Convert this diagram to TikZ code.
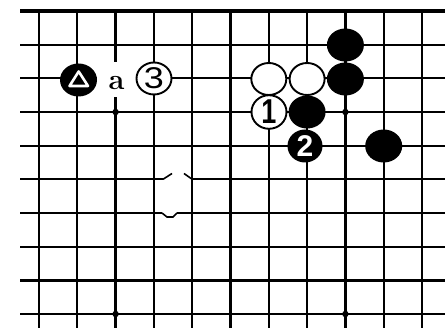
\documentclass[tikz,border=0pt]{standalone}
\usepackage{fontspec}
\newfontfamily\numfont{Liberation Sans}
\usetikzlibrary{shapes.geometric}
\begin{document}
\begin{tikzpicture}[x=1pt,y=-1pt,
  gridline/.style={line width=2.3pt},
  edgeline/.style={line width=4pt},
  markline/.style={line width=1.6pt},
  bstone/.style={ellipse, fill=black, minimum width=37pt, minimum height=33pt, inner sep=0pt, text=white, font=\numfont\bfseries\fontsize{30}{30}\selectfont},
  wstone/.style={ellipse, draw, fill=white, line width=1.9pt, minimum width=35pt, minimum height=32pt, inner sep=0pt, font=\numfont\fontsize{30}{30}\selectfont},
  blank/.style={rectangle, fill=white, minimum width=40pt, minimum height=35pt, inner sep=0pt},
  hoshi/.style={circle, fill=black, inner sep=0pt, minimum size=6.5pt}]
\useasboundingbox (0,0) rectangle (445,328);
\fill[white] (0,0) rectangle (445,328);
% vertical lines
\foreach \i in {0,...,10}
  \draw[gridline] ({39+38.3*\i},11) -- ({39+38.3*\i},328);
% horizontal lines
\foreach \j in {1,2,3,4,7,8,9}
  \draw[gridline] (20,{11+33.67*\j}) -- (445,{11+33.67*\j});
\draw[gridline] (20,179.3) -- (163,179.3);
\draw[gridline] (192.2,179.3) -- (445,179.3);
\draw[markline] (163,179.3) -- (172,173.5);
\draw[markline] (184,173.5) -- (192.2,179.3);
\draw[gridline] (20,213) -- (162,213);
\draw[markline] (162,213) -- (167,217) -- (173,217) -- (177,213);
\draw[gridline] (177,213) -- (445,213);
% top edge
\draw[edgeline] (20,11) -- (445,11);
% star points
\node[hoshi] (h1) at (115.6,112) {};
\node[hoshi] (h2) at (345.4,112) {};
\node[hoshi] (h3) at (115.6,314) {};
\node[hoshi] (h4) at (345.4,314) {};
% stones
\node[blank] (ablank) at (116.5,79.5) {};
\node[font=\bfseries\fontsize{29}{29}\selectfont, inner sep=0pt] (a) at (116.5,83) {a};
\node[bstone] (tri) at (78.5,80) {};
\draw[white, line width=2.6pt, line join=round] (69.5,86) -- (88,86) -- (78.7,71.5) -- cycle;
\node[wstone] (w3) at (154,78.5) {\scalebox{1.2}[1]{3}};
\node[wstone] (w6) at (268.8,79) {};
\node[wstone] (w7) at (307.1,79) {};
\node[bstone] (b81) at (345.4,45) {};
\node[bstone] (b82) at (345.4,79) {};
\node[wstone, font=\numfont\bfseries\fontsize{30}{30}\selectfont] (w1) at (269,112) {\scalebox{0.9}[1.15]{1}};
\node[bstone] (b73) at (307.1,112) {};
\node[bstone, minimum width=35pt] (b2) at (305,146) {2};
\node[bstone] (b94) at (383.7,146) {};
\end{tikzpicture}
\end{document}
